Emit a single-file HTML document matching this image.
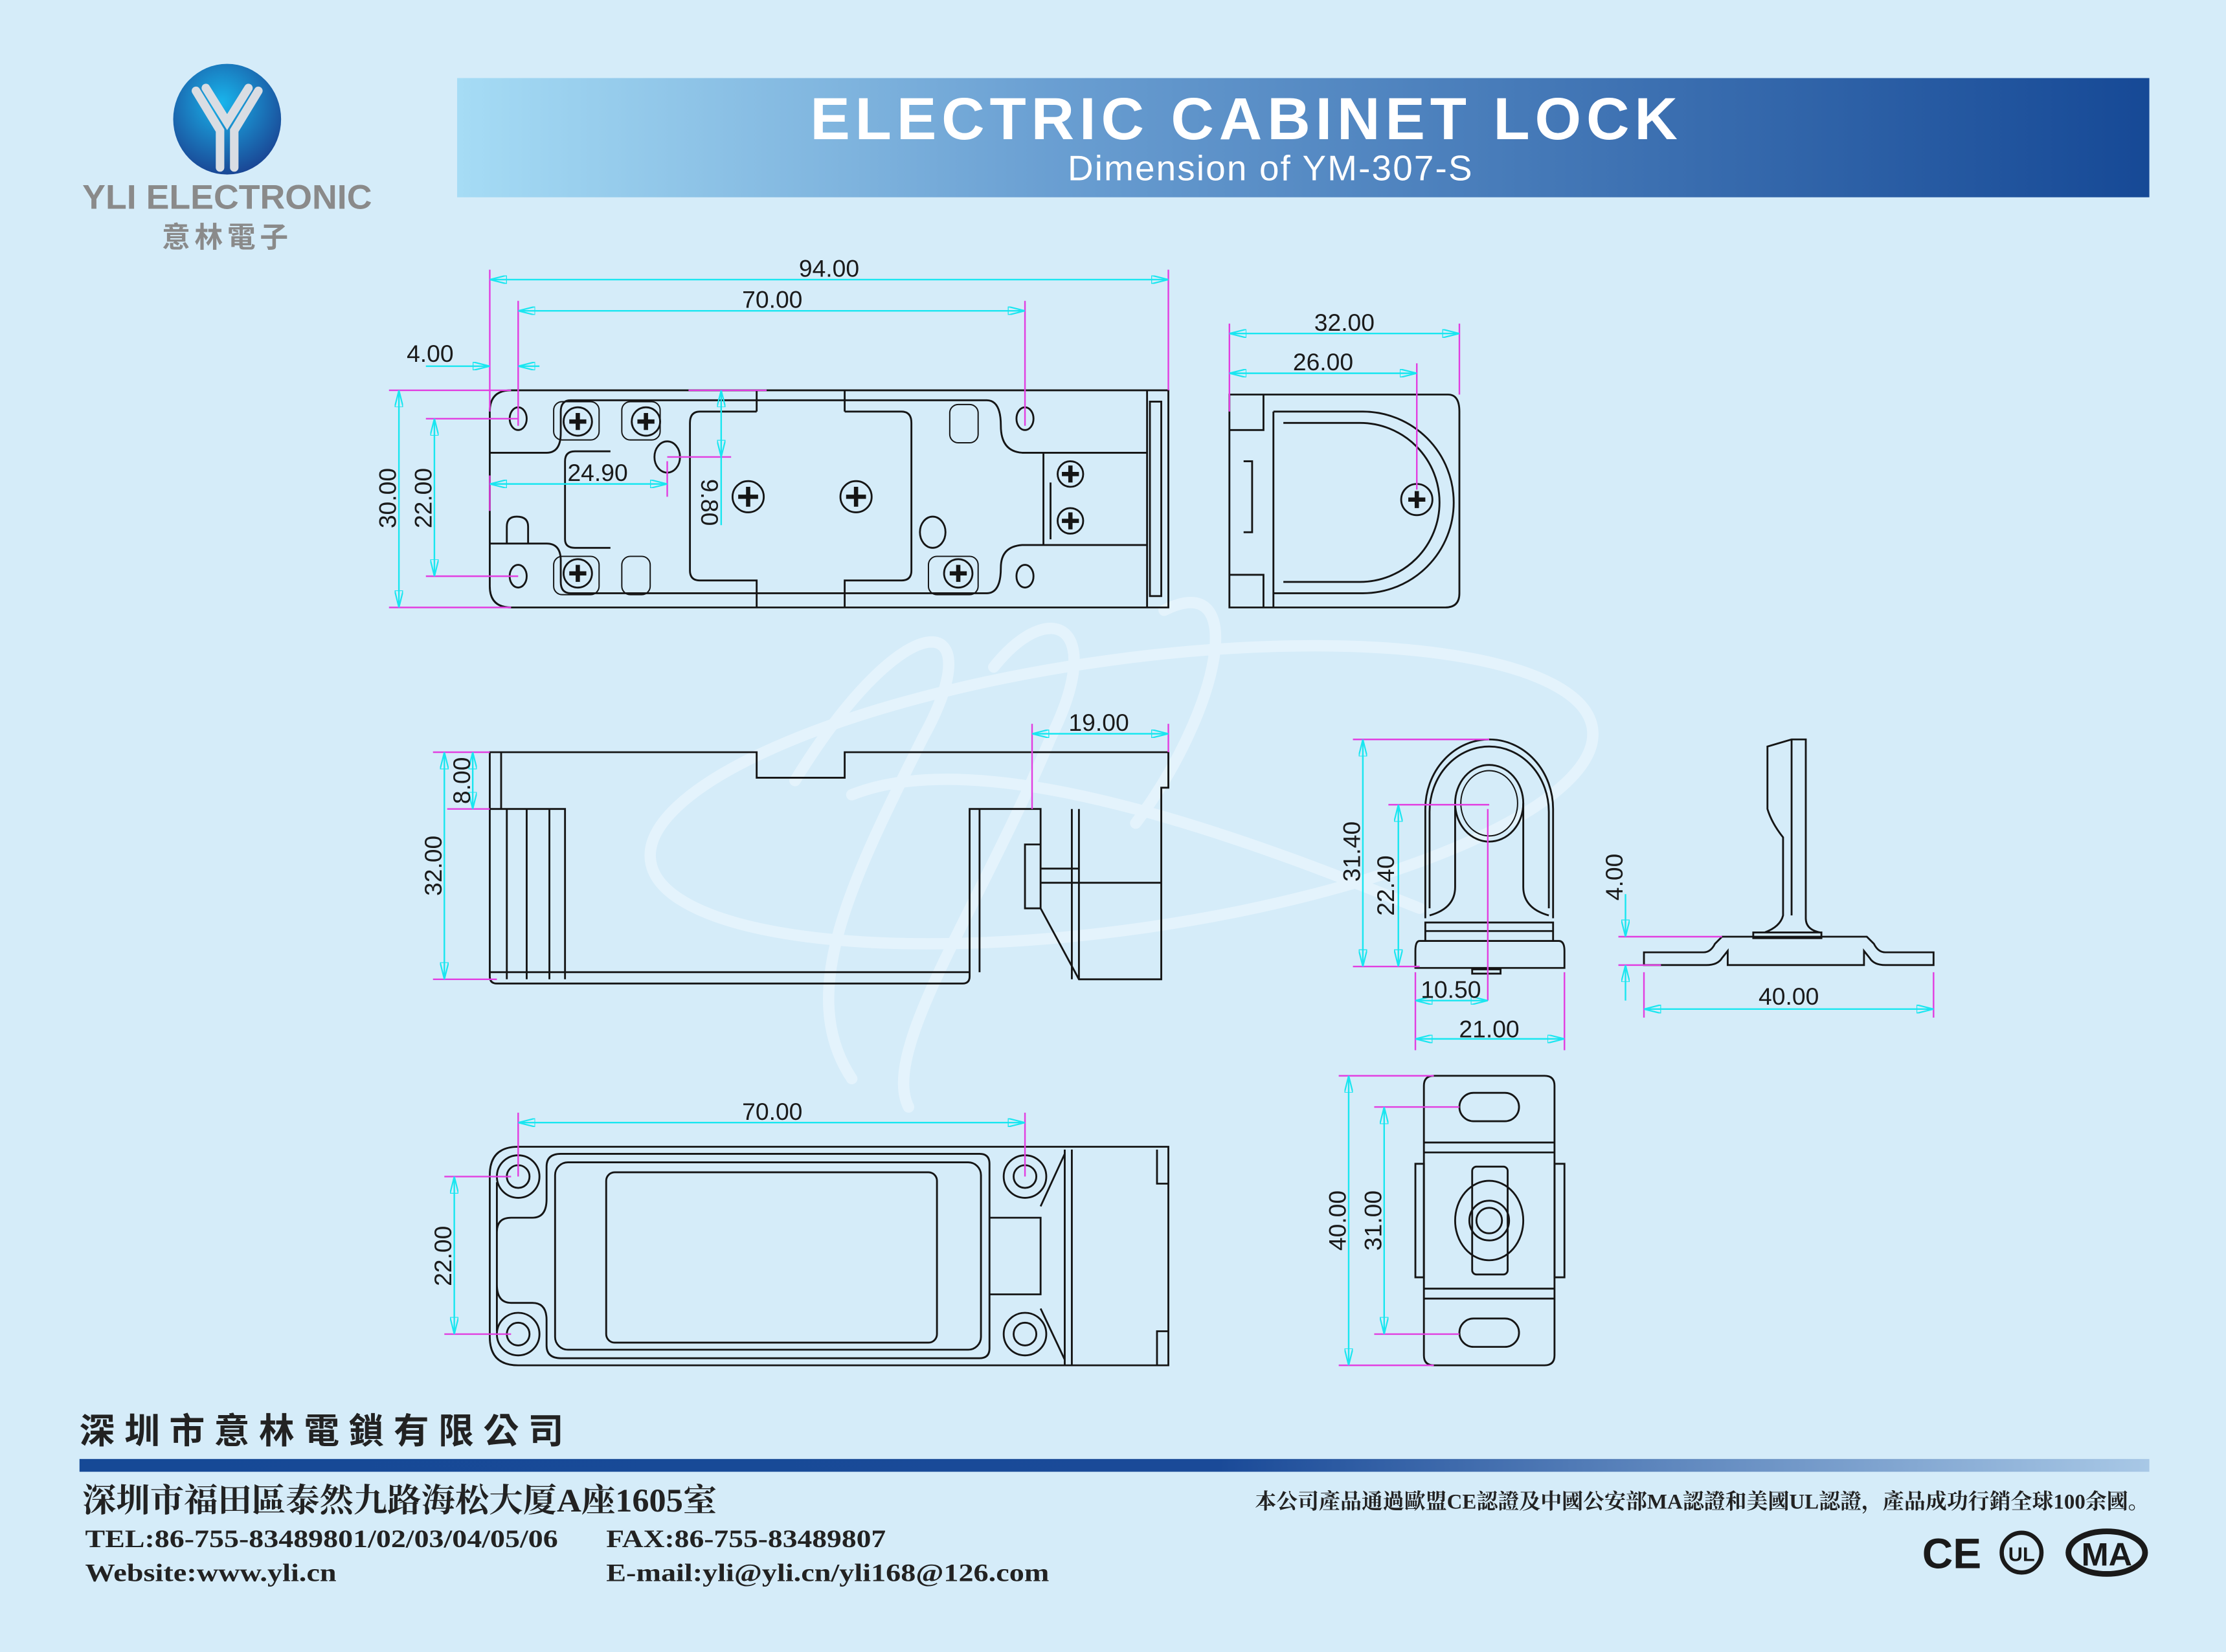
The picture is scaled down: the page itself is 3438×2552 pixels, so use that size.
<!DOCTYPE html>
<html><head><meta charset="utf-8"><style>
html,body{margin:0;padding:0;background:#d5ecf9;}
svg{display:block}
.o{fill:none;stroke:#151515;stroke-width:1.3}
.t{fill:none;stroke:#151515;stroke-width:0.9}
.d{fill:none;stroke:#19e6f0;stroke-width:1.1}
.m{fill:none;stroke:#e23ee0;stroke-width:1.1}
.dt{font-family:"Liberation Sans Narrow","Liberation Sans",sans-serif;font-size:17px;fill:#1a1a1a;text-anchor:middle}
.w{fill:none;stroke:#e4f3fc;stroke-width:8;stroke-linecap:round}
</style></head><body>
<svg width="3438" height="2552" viewBox="0 0 1568 1164" preserveAspectRatio="none" xmlns="http://www.w3.org/2000/svg">
<defs>
<linearGradient id="hb" x1="0" x2="1"><stop offset="0" stop-color="#a6dcf5"/><stop offset="0.35" stop-color="#6a9fd2"/><stop offset="1" stop-color="#164996"/></linearGradient>
<linearGradient id="bb" x1="0" x2="1"><stop offset="0" stop-color="#164996"/><stop offset="0.55" stop-color="#1a4a98"/><stop offset="1" stop-color="#a8c8e6"/></linearGradient>
<radialGradient id="lg" cx="0.45" cy="0.35" r="0.7"><stop offset="0" stop-color="#19b5ec"/><stop offset="1" stop-color="#1a3f8f"/></radialGradient>
<marker id="a" viewBox="0 0 12 6" refX="12" refY="3" markerWidth="12" markerHeight="6" markerUnits="userSpaceOnUse" orient="auto-start-reverse"><path d="M0,0 L12,3 L0,6 Z" fill="none" stroke="#19e6f0" stroke-width="1"/></marker>
</defs>
<rect width="1568" height="1164" fill="#d5ecf9"/>
<!-- watermark -->
<ellipse cx="790" cy="560" rx="335" ry="95" transform="rotate(-8 790 560)" class="w"/>
<path class="w" d="M560 550 C640 420 700 430 650 520 C600 620 560 700 600 760 M700 470 C740 420 780 440 740 520 C690 640 620 740 640 780 M820 430 C880 400 860 500 800 580 M600 560 C700 520 900 600 1000 640" />
<!-- header -->
<rect x="322" y="55" width="1192" height="84" fill="url(#hb)"/>
<text x="878" y="98" text-anchor="middle" font-family="Liberation Sans,sans-serif" font-weight="bold" font-size="42" fill="#fff" letter-spacing="3.6">ELECTRIC CABINET LOCK</text>
<text x="895" y="127" text-anchor="middle" font-family="Liberation Sans,sans-serif" font-size="25" fill="#fff" letter-spacing="1">Dimension of YM-307-S</text>
<ellipse cx="160" cy="84" rx="38" ry="39" fill="url(#lg)"/>
<path d="M138 64 L155 92 L155 118 M182 64 L165 92 L165 118 M145 62 L160 86 L175 62" fill="none" stroke="#d9dde3" stroke-width="6" stroke-linecap="round"/>
<text x="160" y="147" text-anchor="middle" font-family="Liberation Sans,sans-serif" font-size="24" fill="#8a8a8a" font-weight="bold" textLength="204" lengthAdjust="spacingAndGlyphs">YLI ELECTRONIC</text>
<text x="160" y="174" text-anchor="middle" font-family="Liberation Sans,'Noto Sans CJK TC',sans-serif" font-weight="bold" font-size="20" fill="#8a8a8a" letter-spacing="3">意林電子</text>

<!-- VIEW 1 top -->
<path class="o" d="M360 275 H823 V428 H360 Q345 428 345 413 V290 Q345 275 360 275 Z"/>
<path class="o" d="M810 283 h8 v137 h-8 z M808 275 V428"/>
<ellipse class="o" cx="365" cy="295" rx="6" ry="8"/><ellipse class="o" cx="365" cy="406" rx="6" ry="8"/>
<ellipse class="o" cx="722" cy="295" rx="6" ry="8"/><ellipse class="o" cx="722" cy="406" rx="6" ry="8"/>
<path class="o" d="M345 319 H385 Q395 319 395 305 V290 Q395 282 402 282 H695 Q705 282 705 300 Q705 318 720 319 H808"/>
<path class="o" d="M345 383 H385 Q395 383 395 395 V410 Q395 418 402 418 H695 Q705 418 705 400 Q705 385 720 384 H808"/>
<path class="o" d="M398 325 V380 M398 325 Q398 318 405 318 H430 M398 380 Q398 386 405 386 H430"/>
<path class="o" d="M493 290 Q486 290 486 298 V402 Q486 409 493 409 H533 V418 M533 409 V428 M533 282 V275 M533 290 V282 M493 290 H533 M595 290 H635 Q642 290 642 298 V402 Q642 409 635 409 H595 V428 M595 290 V275"/>
<path class="o" d="M357 383 V371 Q357 364 364 364 Q372 364 372 371 V383"/>
<rect class="t" x="390" y="283" width="32" height="27" rx="6"/><rect class="t" x="438" y="283" width="27" height="27" rx="6"/>
<rect class="t" x="390" y="392" width="32" height="27" rx="6"/><rect class="t" x="438" y="392" width="20" height="27" rx="6"/>
<rect class="t" x="654" y="392" width="35" height="27" rx="6"/><rect class="t" x="669" y="285" width="20" height="27" rx="6"/>
<ellipse class="o" cx="470" cy="322" rx="9" ry="11"/><ellipse class="o" cx="657" cy="375" rx="9" ry="11"/>
<path class="o" d="M735 319 V384 M740 340 V380"/>
<g class="o">
<circle cx="407" cy="297" r="10"/><circle cx="455" cy="297" r="10"/><circle cx="407" cy="404" r="10"/><circle cx="675" cy="404" r="10"/>
<circle cx="527" cy="350" r="11"/><circle cx="603" cy="350" r="11"/><circle cx="754" cy="334" r="9"/><circle cx="754" cy="367" r="9"/>
</g>
<g fill="none" stroke="#151515" stroke-width="3">
<path d="M401 297h12M407 291v12M449 297h12M455 291v12M401 404h12M407 398v12M669 404h12M675 398v12M520 350h14M527 343v14M596 350h14M603 343v14M748 334h12M754 328v12M748 367h12M754 361v12"/>
</g>
<!-- dims view1 -->
<path class="m" d="M345 190V290 M823 190V275 M365 212V300 M722 212V300 M274 275H360 M274 428H360 M300 295H365 M300 406H365 M345 335V360 M470 325V350 M470 322H515 M485 275H540"/>
<line class="d" x1="345" y1="197" x2="823" y2="197" marker-start="url(#a)" marker-end="url(#a)"/>
<line class="d" x1="365" y1="219" x2="722" y2="219" marker-start="url(#a)" marker-end="url(#a)"/>
<line class="d" x1="300" y1="258" x2="345" y2="258" marker-end="url(#a)"/><line class="d" x1="380" y1="258" x2="365" y2="258" marker-end="url(#a)"/>
<line class="d" x1="281" y1="275" x2="281" y2="428" marker-start="url(#a)" marker-end="url(#a)"/>
<line class="d" x1="306" y1="295" x2="306" y2="406" marker-start="url(#a)" marker-end="url(#a)"/>
<line class="d" x1="345" y1="341" x2="470" y2="341" marker-start="url(#a)" marker-end="url(#a)"/>
<line class="d" x1="508" y1="275" x2="508" y2="322" marker-start="url(#a)" marker-end="url(#a)"/><line class="d" x1="508" y1="322" x2="508" y2="370"/>
<text class="dt" x="584" y="195">94.00</text><text class="dt" x="544" y="217">70.00</text><text class="dt" x="303" y="255">4.00</text>
<text class="dt" x="421" y="339">24.90</text>
<text class="dt" transform="translate(279,351) rotate(-90)">30.00</text>
<text class="dt" transform="translate(304,351) rotate(-90)">22.00</text>
<text class="dt" transform="translate(494,354) rotate(90)">9.80</text>

<!-- VIEW 2 side -->
<path class="o" d="M866 278 H1020 Q1028 278 1028 290 V418 Q1028 428 1018 428 H866 Z"/>
<path class="o" d="M866 303 H890 V278 M866 405 H890 V428 M897 290 V428 M897 290 H960 A64 64 0 0 1 960 418 H897 M904 298 H958 A56 56 0 0 1 958 410 H904"/>
<path class="o" d="M876 325 h6 v50 h-6"/>
<circle class="o" cx="998" cy="352" r="11"/><path d="M992 352h12M998 346v12" stroke="#151515" stroke-width="3"/>
<path class="m" d="M866 228V290 M1028 228V278 M998 256V345"/>
<line class="d" x1="866" y1="235" x2="1028" y2="235" marker-start="url(#a)" marker-end="url(#a)"/>
<line class="d" x1="866" y1="263" x2="998" y2="263" marker-start="url(#a)" marker-end="url(#a)"/>
<text class="dt" x="947" y="233">32.00</text><text class="dt" x="932" y="261">26.00</text>

<!-- VIEW 3 front -->
<path class="o" d="M345 530 H533 V548 H595 V530 H823 V555 H818 V690 H760 L733 640 V570 H683 V688 Q683 693 678 693 H350 Q345 693 345 688 Z"/>
<path class="o" d="M353 530 V570 M345 570 H398 V690 M357 570 V690 M371 570 V690 M387 570 V690 M345 685 H683 M690 570 V685 M760 570 V690 M755 570 V690 M733 612 H760 M733 622 H818 M733 595 H722 V640 H733"/>
<path class="m" d="M305 530H345 M315 570H345 M305 690H350 M727 510V570 M823 510V530"/>
<line class="d" x1="333" y1="530" x2="333" y2="570" marker-start="url(#a)" marker-end="url(#a)"/>
<line class="d" x1="313" y1="530" x2="313" y2="690" marker-start="url(#a)" marker-end="url(#a)"/>
<line class="d" x1="727" y1="517" x2="823" y2="517" marker-start="url(#a)" marker-end="url(#a)"/>
<text class="dt" x="774" y="515">19.00</text>
<text class="dt" transform="translate(331,550) rotate(-90)">8.00</text>
<text class="dt" transform="translate(311,610) rotate(-90)">32.00</text>

<!-- VIEW 4 bottom -->
<path class="o" d="M365 808 H823 V962 H365 Q345 962 345 942 V828 Q345 808 365 808 Z"/>
<path class="o" d="M350 833 V938 M360 858 Q350 858 350 868 V905 Q350 918 360 918 H375 Q385 918 385 930 V948 Q385 957 395 957 H690 Q697 957 697 950 V820 Q697 813 690 813 H395 Q385 813 385 822 V845 Q385 858 375 858 Z"/>
<rect class="o" x="391" y="819" width="300" height="132" rx="9"/>
<rect class="o" x="427" y="826" width="233" height="120" rx="6"/>
<path class="o" d="M750 810 V962 M755 810 V962 M750 813 L733 850 M750 958 L733 922 M697 858 H733 V912 H697 M815 810 V834 H823 M815 962 V938 H823"/>
<g class="o"><circle cx="365" cy="829" r="15"/><circle cx="365" cy="829" r="8"/><circle cx="365" cy="940" r="15"/><circle cx="365" cy="940" r="8"/>
<circle cx="722" cy="829" r="15"/><circle cx="722" cy="829" r="8"/><circle cx="722" cy="940" r="15"/><circle cx="722" cy="940" r="8"/></g>
<path class="m" d="M365 784V829 M722 784V829 M313 829H360 M313 940H360"/>
<line class="d" x1="365" y1="791" x2="722" y2="791" marker-start="url(#a)" marker-end="url(#a)"/>
<line class="d" x1="320" y1="829" x2="320" y2="940" marker-start="url(#a)" marker-end="url(#a)"/>
<text class="dt" x="544" y="789">70.00</text>
<text class="dt" transform="translate(318,885) rotate(-90)">22.00</text>

<!-- VIEW 5 strike front -->
<path class="o" d="M1004 647 V570 A45 49 0 0 1 1094 570 V647"/>
<path class="o" d="M1007 640 V572 A42 46 0 0 1 1091 572 V640"/>
<ellipse class="o" cx="1049" cy="566" rx="24" ry="27"/><ellipse class="t" cx="1049" cy="566" rx="20" ry="23"/>
<path class="o" d="M1025 566 V625 Q1025 640 1007 645 M1073 566 V625 Q1073 640 1091 645 M1004 656 H1094 M1004 650 H1094 V663 H1004 Z M1000 663 H1098 Q1102 663 1102 670 V682 H997 V670 Q997 663 1000 663 M1037 683 h20 v3 h-20 z"/>
<path class="m" d="M953 521H1049 M978 567H1049 M1048 570V705 M953 681H1000 M997 685V740 M1102 685V740"/>
<line class="d" x1="960" y1="521" x2="960" y2="681" marker-start="url(#a)" marker-end="url(#a)"/>
<line class="d" x1="985" y1="567" x2="985" y2="681" marker-start="url(#a)" marker-end="url(#a)"/>
<line class="d" x1="997" y1="705" x2="1048" y2="705" marker-start="url(#a)" marker-end="url(#a)"/>
<line class="d" x1="997" y1="732" x2="1102" y2="732" marker-start="url(#a)" marker-end="url(#a)"/>
<text class="dt" transform="translate(958,600) rotate(-90)">31.40</text>
<text class="dt" transform="translate(982,624) rotate(-90)">22.40</text>
<text class="dt" x="1022" y="703">10.50</text><text class="dt" x="1049" y="731">21.00</text>

<!-- VIEW 6 strike side -->
<path class="o" d="M1158 671 H1200 Q1205 671 1208 665 L1213 660 H1315 L1320 665 Q1323 671 1328 671 H1362 V680 H1328 Q1320 680 1317 675 L1313 670 V680 H1217 V670 L1213 675 Q1210 680 1202 680 H1158 Z"/>
<path class="o" d="M1245 526 L1262 521 H1272 V647 Q1272 655 1282 657 L1243 657 Q1254 653 1256 645 V590 Q1248 580 1245 570 Z M1262 521 V645 M1235 657 h48 v4 h-48 z"/>
<path class="m" d="M1140 660H1213 M1140 680H1170 M1158 685V717 M1362 685V717"/>
<line class="d" x1="1145" y1="630" x2="1145" y2="660" marker-end="url(#a)"/>
<line class="d" x1="1145" y1="705" x2="1145" y2="680" marker-end="url(#a)"/>
<line class="d" x1="1158" y1="711" x2="1362" y2="711" marker-start="url(#a)" marker-end="url(#a)"/>
<text class="dt" transform="translate(1143,618) rotate(-90)">4.00</text>
<text class="dt" x="1260" y="708">40.00</text>

<!-- VIEW 7 strike top -->
<path class="o" d="M1010 758 H1088 Q1095 758 1095 765 V955 Q1095 962 1088 962 H1010 Q1003 962 1003 955 V765 Q1003 758 1010 758 Z"/>
<path class="o" d="M1003 805 H1095 M1003 812 H1095 M1003 908 H1095 M1003 915 H1095 M997 820 h6 v80 h-6 z M1095 820 h7 v80 h-7 z"/>
<rect class="o" x="1028" y="770" width="42" height="20" rx="10"/><rect class="o" x="1028" y="929" width="42" height="20" rx="10"/>
<rect class="o" x="1037" y="822" width="25" height="76" rx="3"/>
<ellipse class="o" cx="1049" cy="860" rx="24" ry="28" fill="#d5ecf9"/><circle class="o" cx="1049" cy="860" r="14"/><circle class="o" cx="1049" cy="860" r="9"/>
<path class="m" d="M943 758H1010 M968 780H1028 M968 940H1028 M943 962H1010"/>
<line class="d" x1="950" y1="758" x2="950" y2="962" marker-start="url(#a)" marker-end="url(#a)"/>
<line class="d" x1="975" y1="780" x2="975" y2="940" marker-start="url(#a)" marker-end="url(#a)"/>
<text class="dt" transform="translate(948,860) rotate(-90)">40.00</text>
<text class="dt" transform="translate(973,860) rotate(-90)">31.00</text>

<!-- footer -->
<text x="56" y="1017" font-family="Liberation Sans,'Noto Sans CJK TC',sans-serif" font-weight="bold" font-size="25" fill="#222" textLength="341" lengthAdjust="spacing">深圳市意林電鎖有限公司</text>
<rect x="56" y="1028" width="1458" height="9" fill="url(#bb)"/>
<g font-family="Liberation Serif,'Noto Serif CJK SC',serif" font-weight="bold" fill="#222">
<text x="58" y="1065" font-size="23" textLength="447" lengthAdjust="spacingAndGlyphs">深圳市福田區泰然九路海松大厦A座1605室</text>
<text x="60" y="1090" font-size="18" textLength="333" lengthAdjust="spacingAndGlyphs">TEL:86-755-83489801/02/03/04/05/06</text>
<text x="427" y="1090" font-size="18" textLength="197" lengthAdjust="spacingAndGlyphs">FAX:86-755-83489807</text>
<text x="60" y="1114" font-size="18" textLength="177" lengthAdjust="spacingAndGlyphs">Website:www.yli.cn</text>
<text x="427" y="1114" font-size="18" textLength="312" lengthAdjust="spacingAndGlyphs">E-mail:yli@yli.cn/yli168@126.com</text>
<text x="884" y="1063" font-size="15" textLength="630" lengthAdjust="spacingAndGlyphs">本公司產品通過歐盟CE認證及中國公安部MA認證和美國UL認證，產品成功行銷全球100余國。</text>
</g>
<g font-family="Liberation Sans,sans-serif" font-weight="bold" fill="#1a1a1a">
<text x="1354" y="1105" font-size="30">CE</text>
<circle cx="1424" cy="1094" r="14" fill="none" stroke="#1a1a1a" stroke-width="3"/><text x="1424" y="1100" font-size="14" text-anchor="middle">UL</text>
<ellipse cx="1484" cy="1094" rx="27" ry="15" fill="none" stroke="#1a1a1a" stroke-width="4"/><text x="1484" y="1103" font-size="23" text-anchor="middle">MA</text>
</g>
</svg>
</body></html>
